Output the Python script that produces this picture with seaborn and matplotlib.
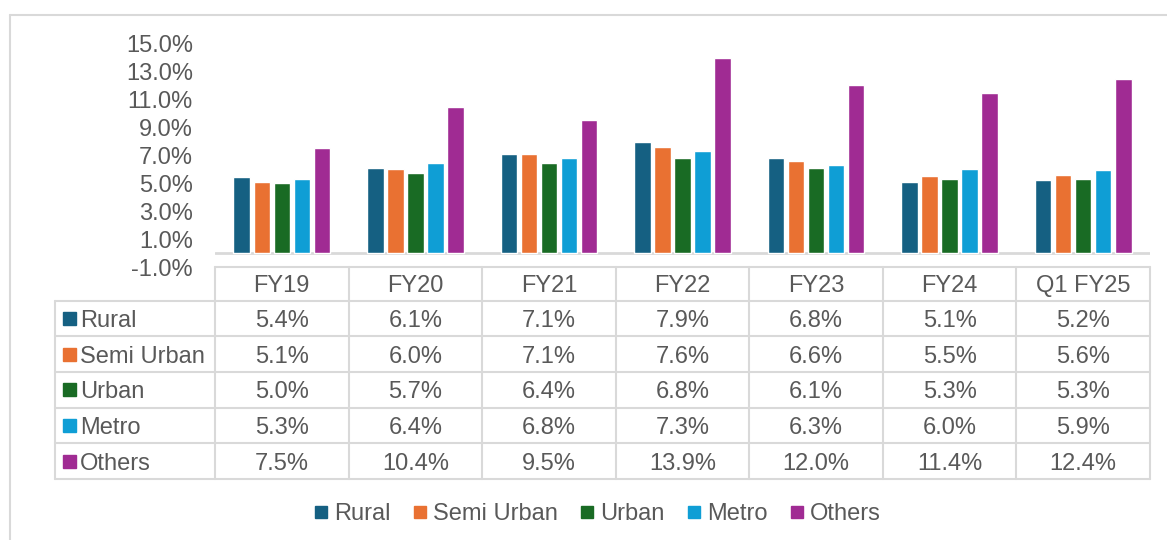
import numpy as np
import pandas as pd
import matplotlib.pyplot as plt
from matplotlib.lines import Line2D
import seaborn as sns

# data
periods = ["FY19", "FY20", "FY21", "FY22", "FY23", "FY24", "Q1 FY25"]
segments = ["Rural", "Semi Urban", "Urban", "Metro", "Others"]
rural = [5.4, 6.1, 7.1, 7.9, 6.8, 5.1, 5.2]
semi_urban = [5.1, 6.0, 7.1, 7.6, 6.6, 5.5, 5.6]
urban = [5.0, 5.7, 6.4, 6.8, 6.1, 5.3, 5.3]
metro = [5.3, 6.4, 6.8, 7.3, 6.3, 6.0, 5.9]
others = [7.5, 10.4, 9.5, 13.9, 12.0, 11.4, 12.4]
y_ticks = [-1, 1, 3, 5, 7, 9, 11, 13, 15]

colors = ["#156082", "#E97132", "#196B24", "#0F9ED5", "#A02B93"]
text_col = "#595959"
line_col = "#D9D9D9"
fs = 17

series = [rural, semi_urban, urban, metro, others]
df = pd.DataFrame({
    "period": periods * len(segments),
    "segment": [s for s in segments for _ in periods],
    "value": [v for vals in series for v in vals],
})

sns.set_theme(style="white")
plt.rcParams["font.family"] = ["Liberation Sans", "DejaVu Sans"]

W, H = 1167, 540
fig = plt.figure(figsize=(W / 100, H / 100), dpi=100)

# plot area in pixels
x0, x1 = 215, 1150
y_top, y_bot = 43, 267
ax = fig.add_axes([x0 / W, 1 - y_bot / H, (x1 - x0) / W, (y_bot - y_top) / H])
sns.barplot(data=df, x="period", y="value", hue="segment", order=periods,
            hue_order=segments, palette=colors, width=0.75, gap=0.18,
            saturation=1, legend=False, ax=ax)
ax.set_ylim(-1, 15)
ax.set_xlim(-0.5, len(periods) - 0.5)
ax.set_yticks(y_ticks)
ax.set_yticklabels([f"{t:.1f}%" for t in y_ticks], fontsize=fs, color=text_col)
ax.set_xticks([])
ax.set_xlabel("")
ax.set_ylabel("")
ax.tick_params(axis="y", length=0, pad=16)
for sp in ax.spines.values():
    sp.set_visible(False)
ax.axhline(0, color=line_col, lw=2, zorder=0)
ax.patch.set_alpha(0)

# overlay in pixel coords for the data table and outer frame
ov = fig.add_axes([0, 0, 1, 1], zorder=-1)
ov.set_xlim(0, W)
ov.set_ylim(H, 0)
ov.axis("off")

ov.plot([10, 10], [15, H], color=line_col, lw=1.5)
ov.plot([10, W], [15, 15], color=line_col, lw=1.5)

colw = (x1 - x0) / len(periods)
lab_x0 = 55
row_top = 300.5
row_h = 35.7
hdr_top = 266.5
cap = fs * 100 / 72 * 0.716 / 2  # half cap height in px, for baseline placement

# header row
ov.plot([x0, x1], [hdr_top, hdr_top], color=line_col, lw=1.5)
bottom = row_top + row_h * len(segments)
for i in range(len(periods) + 1):
    xx = x0 + i * colw
    ov.plot([xx, xx], [hdr_top, bottom], color=line_col, lw=1.5)
for i, p in enumerate(periods):
    ov.text(x0 + (i + 0.5) * colw, (hdr_top + row_top) / 2 + cap, p, ha="center",
            va="baseline", fontsize=fs, color=text_col)

# body rows
ov.plot([lab_x0, lab_x0], [row_top, bottom], color=line_col, lw=1.5)
for r in range(len(segments) + 1):
    yy = row_top + r * row_h
    ov.plot([lab_x0, x1], [yy, yy], color=line_col, lw=1.5)
for r, (seg, vals, c) in enumerate(zip(segments, series, colors)):
    yc = row_top + (r + 0.5) * row_h
    ov.add_patch(plt.Rectangle((63, yc - 6.5), 13, 13, color=c))
    ov.text(80, yc + cap, seg, ha="left", va="baseline", fontsize=fs, color=text_col)
    for i, v in enumerate(vals):
        ov.text(x0 + (i + 0.5) * colw, yc + cap, f"{v:.1f}%", ha="center",
                va="baseline", fontsize=fs, color=text_col)

# legend
handles = [Line2D([], [], marker="s", linestyle="", markersize=9,
                  markerfacecolor=c, markeredgecolor=c) for c in colors]
fig.legend(handles, segments, loc="center", bbox_to_anchor=(598 / W, 1 - 514 / H),
           ncol=5, frameon=False, fontsize=fs, labelcolor=text_col,
           handlelength=0.5, handletextpad=0.3, columnspacing=1.0)

fig.savefig("out.png", dpi=100)
